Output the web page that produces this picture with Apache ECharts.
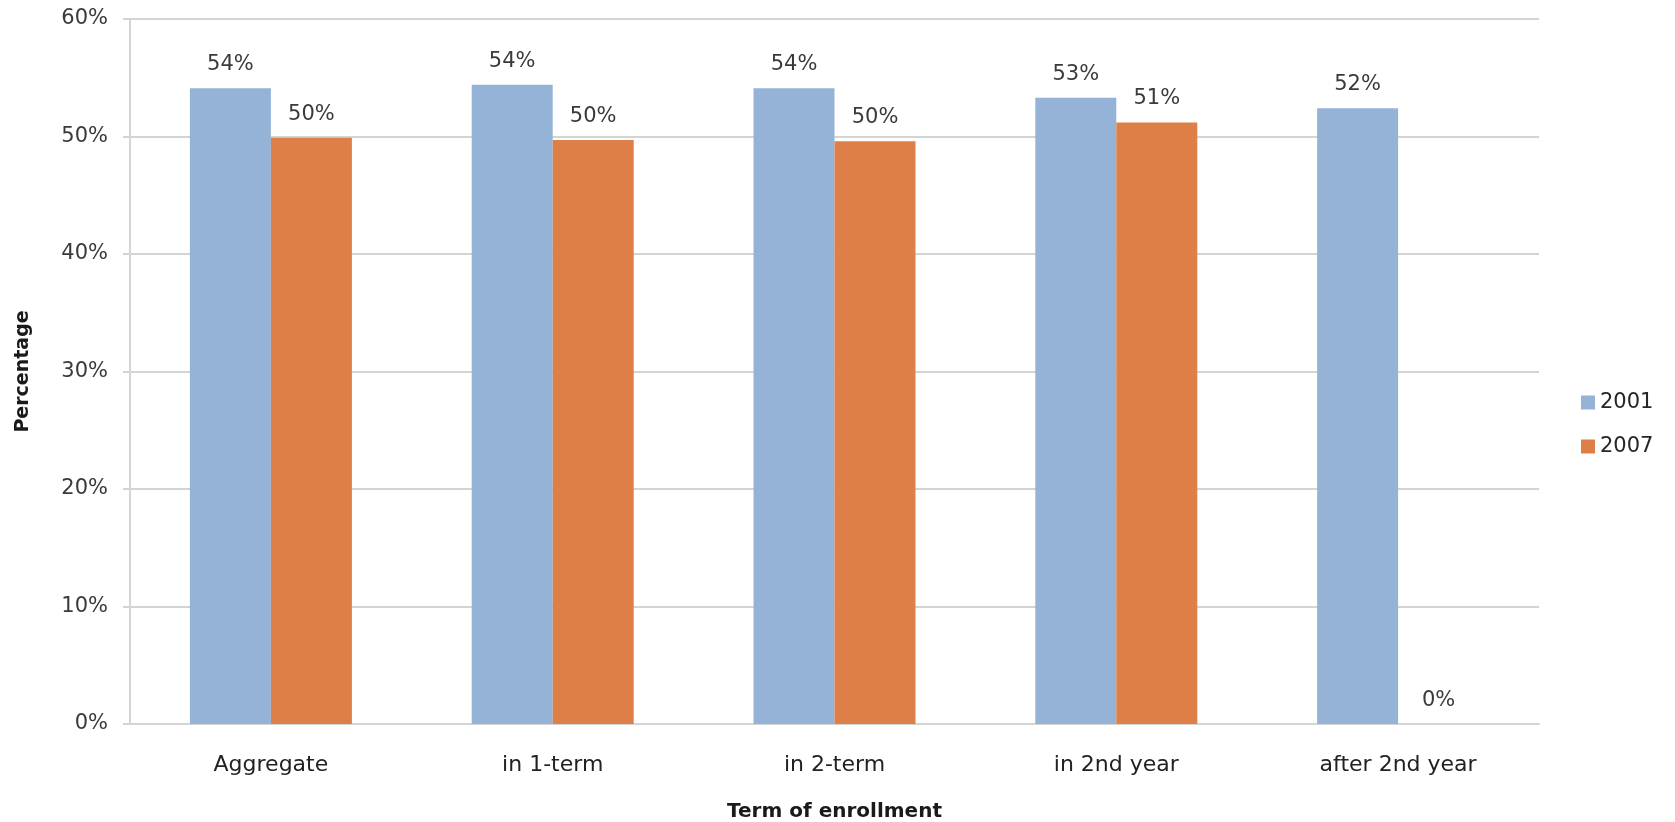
<!DOCTYPE html>
<html>
<head>
<meta charset="utf-8">
<script src="https://cdn.jsdelivr.net/npm/echarts@6/dist/echarts.min.js"></script>
<style>
  html, body { margin: 0; padding: 0; background: #ffffff; }
  #chart { width: 1675px; height: 822px; }
</style>
</head>
<body>
<div id="chart"></div>
<script>
// Share of students by term of enrollment, 2001 vs 2007
const categories = ['Aggregate', 'in 1-term', 'in 2-term', 'in 2nd year', 'after 2nd year'];
const values2001 = [54.1, 54.4, 54.1, 53.3, 52.4];
const values2007 = [49.9, 49.7, 49.6, 51.2, 0];
const seriesNames = ['2001', '2007'];
const yTicks = { min: 0, max: 60, interval: 10 };

const FONT = '"DejaVu Sans", "Noto Sans", sans-serif';
const gridColor = '#d4d4d4';

const chart = echarts.init(document.getElementById('chart'));

const labelStyle = {
  show: true,
  position: 'top',
  distance: 13,
  fontFamily: FONT,
  fontSize: 21,
  color: '#3a3a3a',
  formatter: p => Math.round(p.value) + '%'
};

chart.setOption({
  animation: false,
  backgroundColor: '#ffffff',
  grid: { left: 130, right: 136, top: 19, bottom: 98, containLabel: false, outerBoundsMode: 'none' },
  legend: {
    orient: 'vertical',
    left: 1581,
    top: 392,
    padding: 0,
    itemWidth: 14,
    itemHeight: 14,
    itemGap: 23,
    icon: 'rect',
    textStyle: { fontFamily: FONT, fontSize: 21, color: '#262626' },
    data: seriesNames
  },
  xAxis: {
    type: 'category',
    data: categories,
    name: 'Term of enrollment',
    nameLocation: 'middle',
    nameGap: 78,
    nameTextStyle: { fontFamily: FONT, fontSize: 20, fontWeight: 'bold', color: '#1a1a1a' },
    axisLine: { lineStyle: { color: gridColor, width: 2 } },
    axisTick: { show: false },
    axisLabel: { margin: 30, fontFamily: FONT, fontSize: 22, color: '#222222' }
  },
  yAxis: {
    type: 'value',
    min: yTicks.min,
    max: yTicks.max,
    interval: yTicks.interval,
    name: 'Percentage',
    nameLocation: 'middle',
    nameGap: 97,
    nameTextStyle: { fontFamily: FONT, fontSize: 19, fontWeight: 'bold', color: '#1a1a1a' },
    axisLine: { show: true, lineStyle: { color: gridColor, width: 2 } },
    axisTick: { show: true, length: 7, lineStyle: { color: gridColor, width: 2 } },
    axisLabel: { margin: 22, fontFamily: FONT, fontSize: 21, color: '#3a3a3a', formatter: '{value}%' },
    splitLine: { lineStyle: { color: gridColor, width: 2 } }
  },
  series: [
    {
      name: seriesNames[0],
      type: 'bar',
      data: values2001,
      barWidth: 81,
      barGap: '0%',
      itemStyle: { color: '#95b3d7' },
      label: labelStyle
    },
    {
      name: seriesNames[1],
      type: 'bar',
      data: values2007,
      barWidth: 81,
      barGap: '0%',
      itemStyle: { color: '#dd7f46' },
      label: labelStyle
    }
  ]
});
</script>
</body>
</html>
